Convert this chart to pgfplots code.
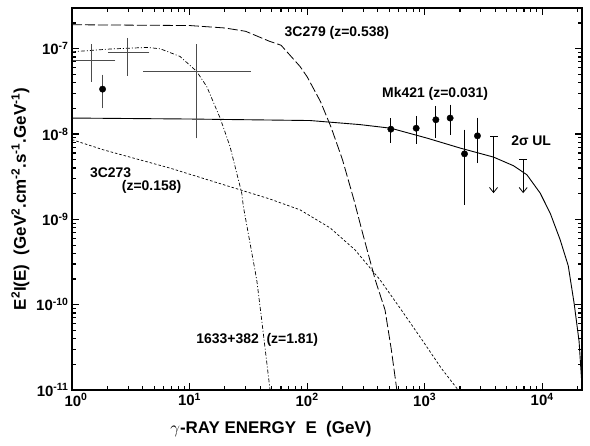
\documentclass[border=0pt]{standalone}
\usepackage{pgfplots}
\pgfplotsset{compat=1.18}
\usetikzlibrary{arrows.meta}
\usepackage{fontspec}
\setmainfont{Liberation Sans}

\begin{document}
\begin{tikzpicture}
\begin{axis}[
  xmode=log, ymode=log,
  width=510bp, height=382bp, scale only axis,
  xmin=1, xmax=21800, ymin=1e-11, ymax=3e-7,
  axis line style={line width=1.6bp},
  tick align=inside,
  major tick length=7bp, minor tick length=4.5bp,
  tick style={black, line width=1.1bp},
  xtick={1,10,100,1000,10000},
  minor xtick={2,3,4,5,6,7,8,9,20,30,40,50,60,70,80,90,200,300,400,500,600,700,800,900,
    2000,3000,4000,5000,6000,7000,8000,9000,20000},
  xticklabels={\hspace{8bp}10\textsuperscript{0}, 10\textsuperscript{1}, 10\textsuperscript{2},
    10\textsuperscript{3}\hspace{14bp}, 10\textsuperscript{4}\hspace{10bp}},
  ytick={1e-11,1e-10,1e-9,1e-8,1e-7},
  minor ytick={2e-11,3e-11,4e-11,5e-11,6e-11,7e-11,8e-11,9e-11,
    2e-10,3e-10,4e-10,5e-10,6e-10,7e-10,8e-10,9e-10,
    2e-9,3e-9,4e-9,5e-9,6e-9,7e-9,8e-9,9e-9,
    2e-8,3e-8,4e-8,5e-8,6e-8,7e-8,8e-8,9e-8,2e-7},
  yticklabels={10\textsuperscript{-11}, 10\textsuperscript{-10}, 10\textsuperscript{-9},
    10\textsuperscript{-8}, 10\textsuperscript{-7}},
  ticklabel style={font=\fontsize{15}{18}\selectfont\bfseries},
  label style={font=\fontsize{17}{20}\selectfont\bfseries},
  xlabel={$\gamma$-RAY ENERGY\ \ E\ \ (GeV)},
  xlabel style={at={(axis description cs:0.39,0)}, anchor=north, yshift=-28bp},
  ylabel={E\textsuperscript{2}I(E)\ \ (GeV\textsuperscript{2}.cm\textsuperscript{-2}.s\textsuperscript{-1}.GeV\textsuperscript{-1})},
]

% Mk421 model
\addplot[black, line width=0.9bp] coordinates {
  (1,1.54e-8) (10,1.50e-8) (106,1.44e-8) (282,1.29e-8) (516,1.17e-8)
  (1044,8.97e-9) (2004,6.85e-9) (3852,5.37e-9) (5702,4.25e-9) (7413,3.33e-9)
  (9612,2.03e-9) (11700,1.18e-9) (14220,5.75e-10) (16650,2.86e-10)
  (18700,1.03e-10) (20600,3.69e-11) (21900,1e-11)};

% 3C279
\addplot[black, line width=0.8bp, dash pattern=on 10bp off 3bp] coordinates {
  (1,1.91e-7) (10,1.87e-7) (20,1.75e-7) (30,1.6e-7) (48,1.22e-7) (60,1.1e-7)
  (87,6.2e-8) (100,4.7e-8) (130,2.4e-8) (160,1.2e-8) (200,5e-9) (250,1.7e-9)
  (300,6.5e-10) (380,1.95e-10) (460,8.7e-11) (520,3e-11) (580,1e-11)};

% 1633+382
\addplot[black, line width=0.7bp, dash pattern=on 4bp off 2bp on 1bp off 2bp] coordinates {
  (1,9.2e-8) (2.11,9.92e-8) (4.32,1.035e-7) (5.61,1.0e-7) (8.3,8.12e-8)
  (11.5,5.42e-8) (14.0,3.61e-8) (18.2,1.54e-8) (22.1,7.14e-9) (27.8,2.03e-9)
  (28.7,1.41e-9) (37.3,1.95e-10) (41.1,6.6e-11) (48.4,1e-11)};

% 3C273
\addplot[black, line width=0.7bp, dash pattern=on 2.5bp off 2bp] coordinates {
  (1,8.6e-9) (1.85,6.53e-9) (6.82,3.99e-9) (26.9,2.22e-9) (48.4,1.73e-9)
  (87.4,1.29e-9) (157,7.94e-10) (256,4.38e-10) (418,1.95e-10) (618,9.1e-11)
  (952,3.86e-11) (1381,1.81e-11) (1928,1e-11)};

% low-energy data, horizontal and vertical bars
\addplot[only marks, mark=*, mark size=0bp, mark options={draw=none, fill=none},
  black!70,
  error bars/.cd, x dir=both, x explicit, y dir=both, y explicit, error mark=-,
  error bar style={black!70, line width=0.9bp},
  error mark options={black!70, line width=0.9bp, mark size=3.5bp}]
  coordinates {
  (1.45,7.29e-8) += (0.73,2.91e-8) -= (0.35,2.76e-8)
  (2.96,9.15e-8) += (1.30,3.05e-8) -= (0.78,3.87e-8)
  (11.5,5.42e-8) += (19.5,4.78e-8) -= (7.18,4.44e-8)};

\addplot[only marks, mark=*, mark size=3.2bp, black,
  error bars/.cd, y dir=both, y explicit,
  error bar style={black!70, line width=0.9bp},
  error mark options={black!70, line width=0.9bp, mark size=3.5bp}]
  coordinates {(1.82,3.36e-8) += (0,1.17e-8) -= (0,1.16e-8)};

% Mk421 data
\addplot[only marks, mark=*, mark size=3.2bp, black,
  error bars/.cd, y dir=both, y explicit,
  error bar style={black, line width=0.8bp},
  error mark options={black, line width=0.8bp, mark size=4bp}]
  coordinates {
  (516,1.14e-8) += (0,2.4e-9) -= (0,2.6e-9)
  (847,1.17e-8) += (0,3.0e-9) -= (0,3.13e-9)
  (1245,1.47e-8) += (0,4.5e-9) -= (0,4.6e-9)
  (1648,1.54e-8) += (0,4.4e-9) -= (0,4.5e-9)
  (2183,5.86e-9) += (0,4.24e-9) -= (0,4.2e-9)
  (2813,9.53e-9) += (0,4.47e-9) -= (0,4.45e-9)};

% 2 sigma upper limits
\addplot[only marks, mark=-, mark size=4bp, black, mark options={line width=0.8bp},
  error bars/.cd, y dir=minus, y explicit, error mark=none,
  error bar style={black, line width=0.8bp, -{Straight Barb[length=5bp,width=8bp]}}]
  coordinates {(3852,9.35e-9) -= (0,7.32e-9) (6890,4.99e-9) -= (0,2.96e-9)};

\node[font=\fontsize{14}{17}\selectfont\bfseries] at (axis cs:179,1.54e-7) {3C279 (z=0.538)};
\node[font=\fontsize{14}{17}\selectfont\bfseries] at (axis cs:1228,2.92e-8) {Mk421 (z=0.031)};
\node[font=\fontsize{14}{17}\selectfont\bfseries] at (axis cs:8050,8.34e-9) {2σ UL};
\node[font=\fontsize{14}{17}\selectfont\bfseries, anchor=west] at (axis cs:1.33,3.51e-9) {3C273};
\node[font=\fontsize{14}{17}\selectfont\bfseries, anchor=west] at (axis cs:2.48,2.37e-9) {(z=0.158)};
\node[font=\fontsize{14}{17}\selectfont\bfseries, anchor=east] at (axis cs:133,3.86e-11) {1633+382\ \ (z=1.81)};
\end{axis}
\pgfresetboundingbox
\path[use as bounding box] ([xshift=-72bp,yshift=-56bp]current axis.south west)
  rectangle ([xshift=8bp,yshift=8bp]current axis.north east);
\end{tikzpicture}
\end{document}
